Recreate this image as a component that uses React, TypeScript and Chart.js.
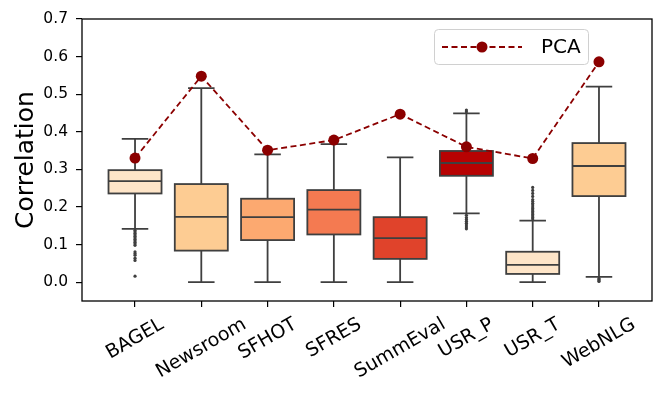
import { useEffect, useRef } from 'react';
import { Chart, registerables } from 'chart.js';

Chart.register(...registerables);

const categories = ['BAGEL', 'Newsroom', 'SFHOT', 'SFRES', 'SummEval', 'USR_P', 'USR_T', 'WebNLG'];
const whiskerLow = [0.142, 0.0, 0.0, 0.0, 0.0, 0.183, 0.0, 0.014];
const q1 = [0.236, 0.084, 0.112, 0.127, 0.062, 0.283, 0.022, 0.229];
const median = [0.269, 0.174, 0.173, 0.193, 0.117, 0.317, 0.046, 0.309];
const q3 = [0.298, 0.261, 0.222, 0.245, 0.173, 0.349, 0.081, 0.37];
const whiskerHigh = [0.381, 0.516, 0.34, 0.367, 0.332, 0.449, 0.164, 0.52];
const pcaValues = [0.33, 0.548, 0.351, 0.378, 0.447, 0.36, 0.329, 0.586];

const outliersBAGEL = [0.138, 0.134, 0.13, 0.126, 0.122, 0.118, 0.114, 0.11, 0.106, 0.102, 0.098, 0.081, 0.076, 0.072, 0.064, 0.058, 0.016];
const outliersUSR_P = [0.453, 0.458, 0.178, 0.172, 0.167, 0.162, 0.157, 0.152, 0.147, 0.142];
const outliersUSR_T = [0.168, 0.172, 0.176, 0.18, 0.184, 0.188, 0.192, 0.196, 0.2, 0.205, 0.21, 0.215, 0.22, 0.228, 0.236, 0.244, 0.252];
const outliersWebNLG = [0.01, 0.007, 0.004, 0.002];
const outliers = [outliersBAGEL, [], [], [], [], outliersUSR_P, outliersUSR_T, outliersWebNLG];

const boxColors = ['#fee5c8', '#fdcc93', '#fca970', '#f47a51', '#e0432b', '#b70202', '#fee5c8', '#fdcc93'];
const yTicks = [0, 0.1, 0.2, 0.3, 0.4, 0.5, 0.6, 0.7];

const EDGE = '#3f3f3f';
const PCA_COLOR = '#8b0000';
const FONT = '"DejaVu Sans", sans-serif';
const LW = 1.8;

export default function App() {
  const ref = useRef<HTMLCanvasElement | null>(null);

  useEffect(() => {
    document.body.style.margin = '0';
    const canvas = ref.current;
    if (!canvas) return;

    const boxPlugin = {
      id: 'boxParts',
      beforeDatasetsDraw(chart: any) {
        const { ctx, scales } = chart;
        const x = scales.x;
        const y = scales.y;
        ctx.save();
        ctx.strokeStyle = EDGE;
        ctx.lineWidth = LW;
        categories.forEach((_, i) => {
          const px = x.getPixelForValue(i);
          const half = x.getPixelForValue(i + 0.2) - px;
          const lo = y.getPixelForValue(whiskerLow[i]);
          const hi = y.getPixelForValue(whiskerHigh[i]);
          const b1 = y.getPixelForValue(q1[i]);
          const b3 = y.getPixelForValue(q3[i]);
          ctx.beginPath();
          ctx.moveTo(px, b1);
          ctx.lineTo(px, lo);
          ctx.moveTo(px - half, lo);
          ctx.lineTo(px + half, lo);
          ctx.moveTo(px, b3);
          ctx.lineTo(px, hi);
          ctx.moveTo(px - half, hi);
          ctx.lineTo(px + half, hi);
          ctx.stroke();
        });
        ctx.restore();
      },
      afterDatasetDraw(chart: any, args: any) {
        if (args.index !== 0) return;
        const { ctx, scales } = chart;
        const y = scales.y;
        const meta = chart.getDatasetMeta(0);
        ctx.save();
        ctx.strokeStyle = EDGE;
        ctx.lineWidth = LW;
        meta.data.forEach((el: any, i: number) => {
          const { x: cx, y: top, base, width } = el.getProps(['x', 'y', 'base', 'width'], true);
          const left = cx - width / 2;
          const t = Math.min(top, base);
          const h = Math.abs(base - top);
          ctx.strokeRect(left, t, width, h);
          const m = y.getPixelForValue(median[i]);
          ctx.beginPath();
          ctx.moveTo(left, m);
          ctx.lineTo(left + width, m);
          ctx.stroke();
        });
        ctx.restore();
      },
      afterDraw(chart: any) {
        const { ctx, chartArea, scales } = chart;
        const x = scales.x;
        // frame
        ctx.save();
        ctx.strokeStyle = '#000';
        ctx.lineWidth = 1.3;
        ctx.strokeRect(chartArea.left, chartArea.top, chartArea.right - chartArea.left, chartArea.bottom - chartArea.top);
        ctx.restore();

        // rotated category labels (centered on tick, like matplotlib)
        const fontPx = 19;
        ctx.save();
        ctx.font = `${fontPx}px ${FONT}`;
        ctx.fillStyle = '#000';
        ctx.textAlign = 'center';
        ctx.textBaseline = 'middle';
        categories.forEach((c, i) => {
          const px = x.getPixelForValue(i);
          const w = ctx.measureText(c).width;
          const cy = chartArea.bottom + 16 + w * 0.25 + fontPx * 0.75 * 0.433;
          ctx.save();
          ctx.translate(px, cy);
          ctx.rotate(-Math.PI / 6);
          ctx.fillText(c, 0, 0);
          ctx.restore();
        });
        ctx.restore();

        // legend
        const lx = chartArea.right - 218;
        const ly = chartArea.top + 10;
        const lw = 154;
        const lh = 35;
        ctx.save();
        ctx.fillStyle = 'rgba(255,255,255,0.8)';
        ctx.strokeStyle = '#d0d0d0';
        ctx.lineWidth = 1;
        ctx.beginPath();
        (ctx as any).roundRect(lx + 0.5, ly + 0.5, lw, lh, 4);
        ctx.fill();
        ctx.stroke();
        const cyL = ly + lh / 2 + 0.5;
        ctx.strokeStyle = PCA_COLOR;
        ctx.lineWidth = 1.8;
        ctx.setLineDash([6, 3.5]);
        ctx.beginPath();
        ctx.moveTo(lx + 8, cyL);
        ctx.lineTo(lx + 88, cyL);
        ctx.stroke();
        ctx.setLineDash([]);
        ctx.fillStyle = PCA_COLOR;
        ctx.beginPath();
        ctx.arc(lx + 48, cyL, 5.5, 0, Math.PI * 2);
        ctx.fill();
        ctx.fillStyle = '#000';
        ctx.font = `20px ${FONT}`;
        ctx.textAlign = 'left';
        ctx.textBaseline = 'middle';
        ctx.fillText('PCA', lx + 107, cyL + 1);
        ctx.restore();
      },
    };

    const outlierPoints: { x: number; y: number }[] = [];
    outliers.forEach((list, i) => list.forEach((v) => outlierPoints.push({ x: i, y: v })));

    const chart = new Chart(canvas, {
      type: 'bar',
      data: {
        datasets: [
          {
            type: 'bar',
            label: 'box',
            data: categories.map((_, i) => ({ x: i, y: [q1[i], q3[i]] })) as any,
            backgroundColor: boxColors,
            borderWidth: 0,
            barPercentage: 0.8,
            categoryPercentage: 1,
            order: 3,
          },
          {
            type: 'scatter',
            label: 'outliers',
            data: outlierPoints,
            pointRadius: 1.6,
            pointBorderWidth: 0,
            backgroundColor: EDGE,
            borderColor: EDGE,
            order: 2,
          },
          {
            type: 'line',
            label: 'PCA',
            data: categories.map((_, i) => ({ x: i, y: pcaValues[i] })),
            borderColor: PCA_COLOR,
            backgroundColor: PCA_COLOR,
            borderWidth: 1.8,
            borderDash: [6, 3.5],
            pointRadius: 5.5,
            pointBorderWidth: 0,
            pointBackgroundColor: PCA_COLOR,
            fill: false,
            tension: 0,
            order: 1,
          },
        ],
      } as any,
      options: {
        animation: false,
        responsive: false,
        devicePixelRatio: 1,
        layout: { padding: { top: 19, right: 12, left: 0, bottom: 0 } },
        plugins: { legend: { display: false }, tooltip: { enabled: false } },
        scales: {
          x: {
            type: 'linear',
            min: -0.8,
            max: 7.8,
            offset: false,
            afterBuildTicks: (scale: any) => {
              scale.ticks = categories.map((_, i) => ({ value: i }));
            },
            afterFit: (scale: any) => {
              scale.height = 96;
            },
            ticks: { display: false },
            grid: { display: true, offset: false, drawOnChartArea: false, drawTicks: true, tickLength: 6, color: '#000', lineWidth: 1.2 },
            border: { display: false },
          },
          y: {
            type: 'linear',
            min: -0.05,
            max: 0.7,
            beginAtZero: false,
            afterBuildTicks: (scale: any) => {
              scale.ticks = yTicks.map((v) => ({ value: v }));
            },
            afterFit: (scale: any) => {
              scale.width = 82;
            },
            ticks: {
              color: '#000',
              font: { family: FONT, size: 15.5 },
              padding: 8,
              callback: (v: any) => Number(v).toFixed(1),
            },
            grid: { display: true, drawOnChartArea: false, drawTicks: true, tickLength: 6, color: '#000', lineWidth: 1.2 },
            border: { display: false },
            title: {
              display: true,
              text: 'Correlation',
              color: '#000',
              font: { family: FONT, size: 25 },
              padding: { top: 11, bottom: 0 },
            },
          },
        },
      } as any,
      plugins: [boxPlugin],
    });

    return () => chart.destroy();
  }, []);

  return (
    <div style={{ width: 664, height: 397 }}>
      <canvas ref={ref} width={664} height={397} />
    </div>
  );
}
